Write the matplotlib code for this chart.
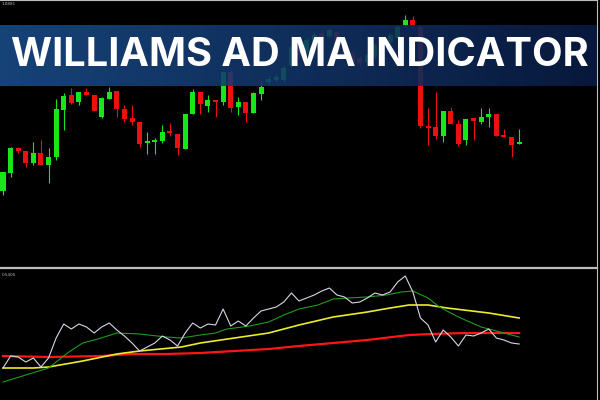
import numpy as np
import matplotlib.pyplot as plt

# ---- price data (one bar per candle) ----
opens = [1.0689, 1.0707, 1.0732, 1.0729, 1.0717, 1.0727, 1.0715, 1.0723, 1.0770, 1.0785,
         1.0778, 1.0788, 1.0785, 1.0763, 1.0781, 1.0789, 1.0771, 1.0762, 1.0758, 1.0737,
         1.0738, 1.0739, 1.0748, 1.0746, 1.0731, 1.0766, 1.0788, 1.0774, 1.0780, 1.0778,
         1.0808, 1.0773, 1.0778, 1.0767, 1.0786, 1.0798, 1.0800, 1.0800, 1.0815, 1.0833,
         1.0828, 1.0838, 1.0847, 1.0844, 1.0848, 1.0836, 1.0827, 1.0822, 1.0818, 1.0823,
         1.0833, 1.0838, 1.0842, 1.0855, 1.0860, 1.0853, 1.0754, 1.0753, 1.0744, 1.0769,
         1.0756, 1.0740, 1.0762, 1.0758, 1.0763, 1.0766, 1.0745, 1.0743, 1.0736]
highs = [1.0708, 1.0733, 1.0733, 1.0729, 1.0738, 1.0740, 1.0732, 1.0781, 1.0787, 1.0792,
         1.0788, 1.0792, 1.0785, 1.0783, 1.0793, 1.0789, 1.0775, 1.0775, 1.0758, 1.0748,
         1.0742, 1.0755, 1.0757, 1.0746, 1.0766, 1.0791, 1.0788, 1.0785, 1.0780, 1.0808,
         1.0810, 1.0783, 1.0778, 1.0788, 1.0799, 1.0804, 1.0806, 1.0814, 1.0836, 1.0835,
         1.0842, 1.0848, 1.0850, 1.0852, 1.0850, 1.0838, 1.0829, 1.0824, 1.0827, 1.0837,
         1.0842, 1.0847, 1.0855, 1.0865, 1.0864, 1.0855, 1.0772, 1.0788, 1.0769, 1.0773,
         1.0760, 1.0761, 1.0762, 1.0772, 1.0772, 1.0766, 1.0751, 1.0743, 1.0751]
lows = [1.0685, 1.0703, 1.0727, 1.0713, 1.0715, 1.0715, 1.0697, 1.0720, 1.0750, 1.0776,
        1.0775, 1.0785, 1.0769, 1.0762, 1.0781, 1.0763, 1.0758, 1.0755, 1.0733, 1.0726,
        1.0726, 1.0737, 1.0744, 1.0725, 1.0731, 1.0766, 1.0766, 1.0768, 1.0763, 1.0775,
        1.0768, 1.0765, 1.0758, 1.0767, 1.0780, 1.0796, 1.0798, 1.0798, 1.0813, 1.0822,
        1.0826, 1.0836, 1.0840, 1.0842, 1.0833, 1.0823, 1.0816, 1.0814, 1.0816, 1.0821,
        1.0831, 1.0836, 1.0840, 1.0853, 1.0852, 1.0752, 1.0735, 1.0741, 1.0738, 1.0756,
        1.0734, 1.0735, 1.0740, 1.0756, 1.0753, 1.0744, 1.0743, 1.0723, 1.0736]
closes = [1.0708, 1.0732, 1.0729, 1.0717, 1.0727, 1.0715, 1.0723, 1.0771, 1.0784, 1.0777,
          1.0788, 1.0785, 1.0769, 1.0782, 1.0788, 1.0771, 1.0761, 1.0758, 1.0736, 1.0739,
          1.0740, 1.0748, 1.0747, 1.0732, 1.0766, 1.0788, 1.0776, 1.0780, 1.0778, 1.0808,
          1.0772, 1.0778, 1.0767, 1.0787, 1.0793, 1.0801, 1.0803, 1.0812, 1.0833, 1.0825,
          1.0840, 1.0845, 1.0842, 1.0850, 1.0835, 1.0825, 1.0818, 1.0817, 1.0825, 1.0835,
          1.0840, 1.0845, 1.0853, 1.0860, 1.0855, 1.0754, 1.0752, 1.0744, 1.0769, 1.0756,
          1.0736, 1.0761, 1.0759, 1.0763, 1.0766, 1.0744, 1.0743, 1.0735, 1.0738]

# ---- Williams A/D line (one value per candle) ----
wad = [32, 44, 43, 38, 42, 33, 42, 62, 76, 71, 76, 73, 67, 73, 77, 70, 64, 57, 49, 53,
       57, 64, 60, 54, 67, 77, 72, 76, 75, 91, 74, 79, 74, 82, 89, 91, 93, 98, 107, 99,
       102, 105, 109, 112, 105, 103, 97, 98, 102, 107, 105, 108, 118, 124, 108, 82, 75, 58, 70, 63,
       54, 65, 64, 67, 71, 62, 60, 57, 56]

# ---- moving averages of the A/D line (read at bar positions) ----
ma_fast_x = [0, 6, 8.5, 10.5, 12.5, 15, 18, 21.5, 23.5, 26, 28, 29.5, 32.5, 35, 37, 39,
             41.5, 43.5, 45.5, 48, 50.5, 52.5, 54, 56, 57.5, 60, 63, 64.5, 66.5, 68]
ma_fast = [18, 32, 47, 57, 61, 67, 66, 63, 62, 65, 67, 71, 74, 78, 85, 91,
           95, 101, 102, 103, 105, 108, 109, 102, 93, 83, 73, 70, 66, 63]
ma_mid_x = [0, 4, 6, 10.5, 15, 18, 23.5, 26, 30.5, 35, 39, 43.5, 48, 51, 53.5, 56, 58.5, 64, 68]
ma_mid = [32, 32, 33, 39, 46, 49, 53, 57, 62, 67, 75, 83, 88, 92, 95, 95, 92, 87, 82]
ma_slow_x = [0, 6, 13, 17, 21.5, 26, 30.5, 35, 39, 43.5, 48, 53.5, 56.5, 61, 68]
ma_slow = [44, 43, 44, 46, 46, 47, 49, 51, 54, 57, 60, 65, 66, 67, 67]

W, H = 600, 400


def box(x0, y0, x1, y1):
    return [x0 / W, 1 - y1 / H, (x1 - x0) / W, (y1 - y0) / H]


fig = plt.figure(figsize=(6, 4), dpi=100, facecolor='black')
ax = fig.add_axes(box(0, 0, 597, 267))
ax2 = fig.add_axes(box(0, 268, 597, 400))

xl = (-3 / 7.59, 594 / 7.59)
frame = '#bdbdbd'
for a in (ax, ax2):
    a.set_facecolor('black')
    a.set_xlim(*xl)
    a.set_xticks([])
    a.set_yticks([])
    a.spines['left'].set_visible(False)
    a.spines['bottom'].set_visible(False)
    a.spines['right'].set_color(frame)
    a.spines['right'].set_linewidth(0.8)
    a.spines['top'].set_color(frame)
ax.spines['top'].set_linewidth(0.8)
ax2.spines['top'].set_linewidth(1.6)

# candles
o = np.array(opens); c = np.array(closes)
idx = np.arange(len(o))
cols = np.where(c >= o, '#19e619', '#ec1111')
ax.vlines(idx, lows, highs, colors=cols, lw=0.8)
ax.bar(idx, np.maximum(np.abs(c - o), 0.00022), 0.66, bottom=np.minimum(o, c),
       color=cols, lw=0)
ax.set_ylim(1.0613, 1.0880)
ax.text(0.003, 0.993, '1.0881', transform=ax.transAxes, color='#bbbbbb',
        fontsize=3, va='top')

# indicator panel
ax2.plot(ma_slow_x, ma_slow, color='#ff1515', lw=1.6)
ax2.plot(ma_mid_x, ma_mid, color='#ecec2a', lw=1.2)
ax2.plot(ma_fast_x, ma_fast, color='#1c9c1c', lw=0.8)
ax2.plot(idx, wad, color='#d6d6e6', lw=0.8)
ax2.set_ylim(0, 132)
ax2.text(0.003, 0.96, '0.5405', transform=ax2.transAxes, color='#bbbbbb',
         fontsize=3, va='top')

# title banner
bax = fig.add_axes(box(0, 25, 597, 86))
grad = np.linspace(0, 1, 256)[None, :]
left = np.array([0.10, 0.30, 0.54]); right = np.array([0.04, 0.11, 0.27])
img = left[None, None, :] * (1 - grad[..., None]) + right[None, None, :] * grad[..., None]
bax.imshow(img, aspect='auto', extent=(0, 1, 0, 1), alpha=0.88)
bax.set_axis_off()

t = fig.text(300 / W, 1 - 56 / H, 'WILLIAMS AD MA INDICATOR', color='white',
             fontsize=32, fontweight='bold', family=['Inter', 'DejaVu Sans'],
             ha='center', va='center')
fig.canvas.draw()
wpx = t.get_window_extent().width
t.set_fontsize(32 * 576 / wpx)

fig.savefig('out.png', dpi=100, facecolor='black')
